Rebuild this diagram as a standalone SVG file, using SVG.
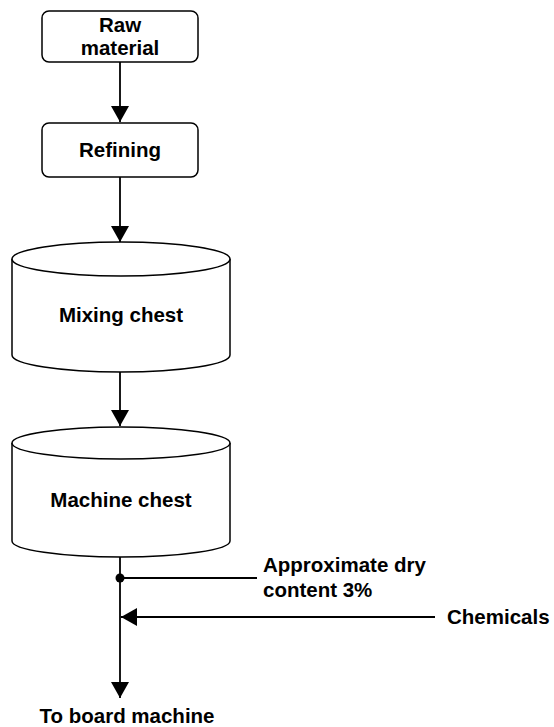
<svg xmlns="http://www.w3.org/2000/svg" width="554" height="727" viewBox="0 0 554 727">
  <style>
    .shape { fill: #ffffff; stroke: #000000; stroke-width: 1.5; }
    .wire { fill: none; stroke: #000000; stroke-width: 1.8; }
    .lbl { font-family: "Liberation Sans", Arial, sans-serif; font-size: 20.5px; font-weight: bold; fill: #000000; }
    .mid { text-anchor: middle; }
  </style>
  <defs>
    <marker id="head" viewBox="0 0 16 18" refX="16" refY="9" markerWidth="16" markerHeight="18" markerUnits="userSpaceOnUse" orient="auto">
      <path d="M0,0 L16,9 L0,18 Z" fill="#000000"/>
    </marker>
  </defs>

  <g id="connectors">
    <line class="wire" x1="120" y1="62" x2="120" y2="122" marker-end="url(#head)"/>
    <line class="wire" x1="120" y1="177" x2="120" y2="242" marker-end="url(#head)"/>
    <line class="wire" x1="120" y1="372" x2="120" y2="426" marker-end="url(#head)"/>
    <line class="wire" x1="120" y1="557" x2="120" y2="698" marker-end="url(#head)"/>
    <line class="wire" x1="120" y1="578" x2="257" y2="578"/>
    <circle cx="120" cy="578" r="4.5" fill="#000000"/>
    <line class="wire" x1="435" y1="617" x2="121" y2="617" marker-end="url(#head)"/>
  </g>

  <g id="raw-material">
    <rect class="shape" x="42" y="11" width="156" height="51" rx="7"/>
    <text class="lbl mid" x="120" y="32">Raw</text>
    <text class="lbl mid" x="120" y="55">material</text>
  </g>

  <g id="refining">
    <rect class="shape" x="42" y="123" width="156" height="54" rx="7"/>
    <text class="lbl mid" x="120" y="157">Refining</text>
  </g>

  <g id="mixing-chest">
    <path class="shape" d="M12,259 L12,355 A109,17 0 0 0 230,355 L230,259"/>
    <ellipse class="shape" cx="121" cy="259" rx="109" ry="17"/>
    <text class="lbl mid" x="121" y="322">Mixing chest</text>
  </g>

  <g id="machine-chest">
    <path class="shape" d="M12,443 L12,541 A109,16 0 0 0 230,541 L230,443"/>
    <ellipse class="shape" cx="121" cy="443" rx="109" ry="16"/>
    <text class="lbl mid" x="121" y="507">Machine chest</text>
  </g>

  <g id="dry-content">
    <text class="lbl" x="263" y="572">Approximate dry</text>
    <text class="lbl" x="263" y="597">content 3%</text>
  </g>

  <g id="chemicals">
    <text class="lbl" x="447" y="624">Chemicals</text>
  </g>

  <g id="board-machine">
    <text class="lbl mid" x="127" y="723">To board machine</text>
  </g>
</svg>
